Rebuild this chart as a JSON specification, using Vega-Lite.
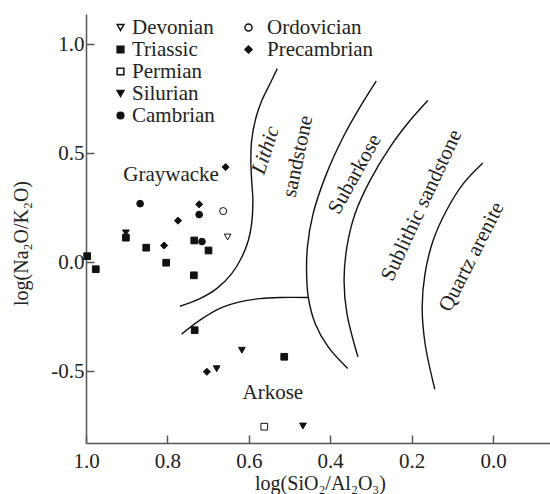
{
  "$schema": "https://vega.github.io/schema/vega-lite/v6.json",
  "width": 464,
  "height": 429,
  "autosize": {"type": "none"},
  "padding": {"left": 86, "top": 14, "right": 0, "bottom": 51},
  "background": "white",
  "config": {
    "view": {"stroke": null},
    "font": "Liberation Serif"
  },
  "datasets": {
    "points": [
      {"period": "Precambrian", "x": 0.657, "y": 0.437},
      {"period": "Precambrian", "x": 0.722, "y": 0.266},
      {"period": "Precambrian", "x": 0.774, "y": 0.191},
      {"period": "Precambrian", "x": 0.808, "y": 0.077},
      {"period": "Precambrian", "x": 0.703, "y": -0.503},
      {"period": "Cambrian", "x": 0.867, "y": 0.269},
      {"period": "Cambrian", "x": 0.722, "y": 0.219},
      {"period": "Cambrian", "x": 0.715, "y": 0.095},
      {"period": "Ordovician", "x": 0.663, "y": 0.235},
      {"period": "Silurian", "x": 0.902, "y": 0.135},
      {"period": "Silurian", "x": 0.617, "y": -0.404},
      {"period": "Silurian", "x": 0.679, "y": -0.489},
      {"period": "Silurian", "x": 0.467, "y": -0.752},
      {"period": "Triassic", "x": 0.902, "y": 0.113},
      {"period": "Triassic", "x": 0.734, "y": 0.100},
      {"period": "Triassic", "x": 0.699, "y": 0.054},
      {"period": "Triassic", "x": 0.852, "y": 0.067},
      {"period": "Triassic", "x": 0.803, "y": -0.002},
      {"period": "Triassic", "x": 0.735, "y": -0.060},
      {"period": "Triassic", "x": 0.997, "y": 0.028},
      {"period": "Triassic", "x": 0.976, "y": -0.032},
      {"period": "Triassic", "x": 0.733, "y": -0.312},
      {"period": "Triassic", "x": 0.513, "y": -0.434},
      {"period": "Devonian", "x": 0.652, "y": 0.116},
      {"period": "Permian", "x": 0.562, "y": -0.755}
    ],
    "curves": [
      {"c": "A", "i": 0, "x": 0.530, "y": 0.889},
      {"c": "A", "i": 1, "x": 0.548, "y": 0.820},
      {"c": "A", "i": 2, "x": 0.568, "y": 0.743},
      {"c": "A", "i": 3, "x": 0.582, "y": 0.667},
      {"c": "A", "i": 4, "x": 0.593, "y": 0.560},
      {"c": "A", "i": 5, "x": 0.595, "y": 0.468},
      {"c": "A", "i": 6, "x": 0.593, "y": 0.376},
      {"c": "A", "i": 7, "x": 0.590, "y": 0.284},
      {"c": "A", "i": 8, "x": 0.593, "y": 0.177},
      {"c": "A", "i": 9, "x": 0.601, "y": 0.101},
      {"c": "A", "i": 10, "x": 0.617, "y": 0.024},
      {"c": "A", "i": 11, "x": 0.642, "y": -0.052},
      {"c": "A", "i": 12, "x": 0.679, "y": -0.121},
      {"c": "A", "i": 13, "x": 0.720, "y": -0.167},
      {"c": "A", "i": 14, "x": 0.749, "y": -0.189},
      {"c": "A", "i": 15, "x": 0.769, "y": -0.202},
      {"c": "B", "i": 0, "x": 0.765, "y": -0.330},
      {"c": "B", "i": 1, "x": 0.720, "y": -0.266},
      {"c": "B", "i": 2, "x": 0.671, "y": -0.212},
      {"c": "B", "i": 3, "x": 0.622, "y": -0.182},
      {"c": "B", "i": 4, "x": 0.572, "y": -0.167},
      {"c": "B", "i": 5, "x": 0.523, "y": -0.162},
      {"c": "B", "i": 6, "x": 0.454, "y": -0.162},
      {"c": "C", "i": 0, "x": 0.287, "y": 0.832},
      {"c": "C", "i": 1, "x": 0.327, "y": 0.712},
      {"c": "C", "i": 2, "x": 0.368, "y": 0.575},
      {"c": "C", "i": 3, "x": 0.409, "y": 0.407},
      {"c": "C", "i": 4, "x": 0.442, "y": 0.223},
      {"c": "C", "i": 5, "x": 0.456, "y": 0.070},
      {"c": "C", "i": 6, "x": 0.458, "y": -0.052},
      {"c": "C", "i": 7, "x": 0.454, "y": -0.159},
      {"c": "C", "i": 8, "x": 0.437, "y": -0.281},
      {"c": "C", "i": 9, "x": 0.405, "y": -0.389},
      {"c": "C", "i": 10, "x": 0.357, "y": -0.488},
      {"c": "D", "i": 0, "x": 0.160, "y": 0.743},
      {"c": "D", "i": 1, "x": 0.204, "y": 0.651},
      {"c": "D", "i": 2, "x": 0.253, "y": 0.529},
      {"c": "D", "i": 3, "x": 0.302, "y": 0.376},
      {"c": "D", "i": 4, "x": 0.339, "y": 0.223},
      {"c": "D", "i": 5, "x": 0.359, "y": 0.070},
      {"c": "D", "i": 6, "x": 0.366, "y": -0.083},
      {"c": "D", "i": 7, "x": 0.359, "y": -0.235},
      {"c": "D", "i": 8, "x": 0.332, "y": -0.434},
      {"c": "E", "i": 0, "x": 0.025, "y": 0.456},
      {"c": "E", "i": 1, "x": 0.073, "y": 0.361},
      {"c": "E", "i": 2, "x": 0.114, "y": 0.239},
      {"c": "E", "i": 3, "x": 0.147, "y": 0.101},
      {"c": "E", "i": 4, "x": 0.167, "y": -0.052},
      {"c": "E", "i": 5, "x": 0.174, "y": -0.205},
      {"c": "E", "i": 6, "x": 0.167, "y": -0.373},
      {"c": "E", "i": 7, "x": 0.143, "y": -0.583}
    ],
    "labels": [
      {"label": "Graywacke", "x": 0.791, "y": 0.399},
      {"label": "Arkose", "x": 0.541, "y": -0.601},
      {"label": "Lithic", "x": 0.558, "y": 0.514},
      {"label": "sandstone", "x": 0.479, "y": 0.486},
      {"label": "Subarkose", "x": 0.339, "y": 0.404},
      {"label": "Sublithic sandstone", "x": 0.175, "y": 0.261},
      {"label": "Quartz arenite", "x": 0.052, "y": 0.024}
    ]
  },
  "layer": [
    {
      "data": {"name": "curves"},
      "mark": {"type": "line", "interpolate": "catmull-rom", "color": "#111", "strokeWidth": 1.4},
      "encoding": {
        "x": {
          "field": "x", "type": "quantitative",
          "scale": {"domain": [-0.14, 1.0], "reverse": true, "nice": false, "zero": false},
          "axis": {
            "values": [1.0, 0.8, 0.6, 0.4, 0.2, 0.0], "format": ".1f", "grid": false,
            "tickSize": -8, "tickColor": "#555", "tickWidth": 1.5,
            "domainColor": "#555", "domainWidth": 1.5,
            "labelPadding": 15, "labelFontSize": 21, "labelColor": "#222", "labelFlush": false, "labelOverlap": false,
            "title": "log(SiO₂/Al₂O₃)", "titleFontSize": 20, "titleFontWeight": "normal", "titleColor": "#222",
            "titleX": 234, "titleY": 40, "titleAlign": "center", "titleBaseline": "middle"
          }
        },
        "y": {
          "field": "y", "type": "quantitative",
          "scale": {"domain": [-0.83, 1.14], "nice": false, "zero": false},
          "axis": {
            "values": [-0.5, 0.0, 0.5, 1.0], "format": ".1f", "grid": false,
            "labelExpr": "replace(datum.label, '−', '-')",
            "tickSize": -8, "tickColor": "#555", "tickWidth": 1.5,
            "domainColor": "#555", "domainWidth": 1.5,
            "labelPadding": 10, "labelFontSize": 21, "labelColor": "#222", "labelFlush": false, "labelOverlap": false,
            "title": "log(Na₂O/K₂O)", "titleFontSize": 20, "titleFontWeight": "normal", "titleColor": "#222",
            "titleX": -65, "titleY": 229, "titleAngle": -90, "titleAlign": "center", "titleBaseline": "middle"
          }
        },
        "detail": {"field": "c", "type": "nominal"},
        "order": {"field": "i", "type": "quantitative"}
      }
    },
    {
      "data": {"name": "points"},
      "transform": [{"filter": "datum.period != 'Ordovician' && datum.period != 'Precambrian'"}],
      "mark": {"type": "point", "filled": true, "stroke": "#111", "strokeWidth": 1, "size": 45, "opacity": 1},
      "encoding": {
        "x": {"field": "x", "type": "quantitative"},
        "y": {"field": "y", "type": "quantitative"},
        "shape": {
          "field": "period", "type": "nominal",
          "scale": {"domain": ["Devonian", "Triassic", "Permian", "Silurian", "Cambrian"], "range": ["triangle-down", "square", "square", "triangle-down", "circle"]},
          "legend": {"orient": "none", "legendX": 24, "legendY": 3, "title": null, "padding": 0, "labelFont": "Liberation Serif", "labelFontSize": 21, "labelColor": "#222", "labelOffset": 1, "rowPadding": 0, "symbolSize": 45,
            "encode": {"symbols": {"update": {"stroke": {"value": "#111"}, "strokeWidth": {"value": 1}, "opacity": {"value": 1}}}}}
        },
        "fill": {
          "field": "period", "type": "nominal",
          "scale": {"domain": ["Devonian", "Triassic", "Permian", "Silurian", "Cambrian"], "range": ["white", "#111", "white", "#111", "#111"]},
          "legend": {"orient": "none", "legendX": 24, "legendY": 3, "title": null, "padding": 0, "labelFont": "Liberation Serif", "labelFontSize": 21, "labelColor": "#222", "labelOffset": 1, "rowPadding": 0, "symbolSize": 45,
            "encode": {"symbols": {"update": {"stroke": {"value": "#111"}, "strokeWidth": {"value": 1}, "opacity": {"value": 1}}}}}
        }
      }
    },
    {
      "data": {"name": "points"},
      "transform": [{"filter": "datum.period == 'Ordovician' || datum.period == 'Precambrian'"}],
      "mark": {"type": "point", "filled": true, "stroke": "#111", "strokeWidth": 1, "size": 50, "opacity": 1},
      "encoding": {
        "x": {"field": "x", "type": "quantitative"},
        "y": {"field": "y", "type": "quantitative"},
        "shape": {
          "field": "period", "type": "nominal",
          "scale": {"domain": ["Ordovician", "Precambrian"], "range": ["circle", "diamond"]},
          "legend": {"orient": "none", "legendX": 152, "legendY": 3, "title": null, "padding": 0, "labelFont": "Liberation Serif", "labelFontSize": 21, "labelColor": "#222", "labelOffset": 8, "rowPadding": 0, "symbolSize": 50,
            "encode": {"symbols": {"update": {"stroke": {"value": "#111"}, "strokeWidth": {"value": 1}, "opacity": {"value": 1}}}}}
        },
        "fill": {
          "field": "period", "type": "nominal",
          "scale": {"domain": ["Ordovician", "Precambrian"], "range": ["white", "#111"]},
          "legend": {"orient": "none", "legendX": 152, "legendY": 3, "title": null, "padding": 0, "labelFont": "Liberation Serif", "labelFontSize": 21, "labelColor": "#222", "labelOffset": 8, "rowPadding": 0, "symbolSize": 50,
            "encode": {"symbols": {"update": {"stroke": {"value": "#111"}, "strokeWidth": {"value": 1}, "opacity": {"value": 1}}}}}
        }
      }
    },
    {
      "data": {"name": "labels"},
      "transform": [{"filter": "datum.label == 'Graywacke' || datum.label == 'Arkose'"}],
      "mark": {"type": "text", "font": "Liberation Serif", "fontSize": 21, "color": "#222", "align": "center", "baseline": "middle"},
      "encoding": {
        "x": {"field": "x", "type": "quantitative"},
        "y": {"field": "y", "type": "quantitative"},
        "text": {"field": "label"}
      }
    },
    {
      "data": {"name": "labels"},
      "transform": [{"filter": "datum.label == 'Lithic'"}],
      "mark": {"type": "text", "font": "Liberation Serif", "fontSize": 21, "fontStyle": "italic", "color": "#222", "align": "center", "baseline": "middle", "angle": -72},
      "encoding": {
        "x": {"field": "x", "type": "quantitative"},
        "y": {"field": "y", "type": "quantitative"},
        "text": {"field": "label"}
      }
    },
    {
      "data": {"name": "labels"},
      "transform": [{"filter": "datum.label == 'sandstone'"}],
      "mark": {"type": "text", "font": "Liberation Serif", "fontSize": 21, "color": "#222", "align": "center", "baseline": "middle", "angle": -78},
      "encoding": {
        "x": {"field": "x", "type": "quantitative"},
        "y": {"field": "y", "type": "quantitative"},
        "text": {"field": "label"}
      }
    },
    {
      "data": {"name": "labels"},
      "transform": [{"filter": "datum.label == 'Subarkose'"}],
      "mark": {"type": "text", "font": "Liberation Serif", "fontSize": 21, "color": "#222", "align": "center", "baseline": "middle", "angle": -61},
      "encoding": {
        "x": {"field": "x", "type": "quantitative"},
        "y": {"field": "y", "type": "quantitative"},
        "text": {"field": "label"}
      }
    },
    {
      "data": {"name": "labels"},
      "transform": [{"filter": "datum.label == 'Sublithic sandstone'"}],
      "mark": {"type": "text", "font": "Liberation Serif", "fontSize": 21, "color": "#222", "align": "center", "baseline": "middle", "angle": -65},
      "encoding": {
        "x": {"field": "x", "type": "quantitative"},
        "y": {"field": "y", "type": "quantitative"},
        "text": {"field": "label"}
      }
    },
    {
      "data": {"name": "labels"},
      "transform": [{"filter": "datum.label == 'Quartz arenite'"}],
      "mark": {"type": "text", "font": "Liberation Serif", "fontSize": 21, "color": "#222", "align": "center", "baseline": "middle", "angle": -63},
      "encoding": {
        "x": {"field": "x", "type": "quantitative"},
        "y": {"field": "y", "type": "quantitative"},
        "text": {"field": "label"}
      }
    }
  ],
  "resolve": {"scale": {"shape": "independent", "fill": "independent"}}
}
